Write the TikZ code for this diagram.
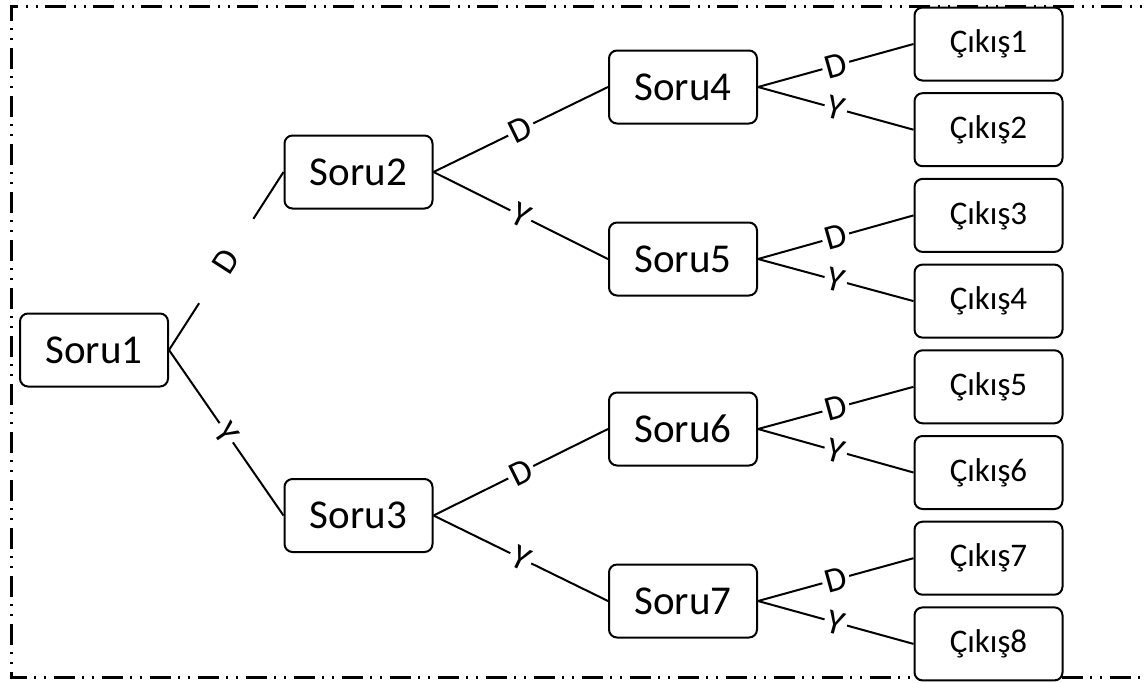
\documentclass[tikz,border=0pt]{standalone}
\usepackage{fontspec}
\setmainfont{Carlito}
\usetikzlibrary{positioning}

\begin{document}
\begin{tikzpicture}[
  x=0.5pt, y=-0.5pt,
  qbox/.style={draw=black, line width=1pt, rounded corners=4pt, fill=white,
    minimum width=74pt, minimum height=36.5pt, inner sep=0pt,
    font=\fontsize{20.5}{24}\selectfont},
  outbox/.style={qbox, font=\fontsize{16.5}{19}\selectfont},
  link/.style={line width=1pt, draw=black},
  ans/.style={sloped, fill=white, inner sep=1.5pt, font=\fontsize{17.5}{20}\selectfont},
  dashframe/.style={line width=1.1pt,
    dash pattern=on 10.5pt off 3.5pt on 0.9pt off 4.1pt on 0.9pt off 4.1pt}
]
  \useasboundingbox (0,0) rectangle (1145,682);
  \draw[dashframe] (1170,6.5) -- (11.5,6.5) -- (11.5,677.5) -- (1170,677.5);

  % questions
  \node[qbox] (soru1) at (94,350) {Soru1};
  \node[qbox] (soru2) at (358.5,172) {Soru2};
  \node[qbox] (soru3) at (358.5,515.5) {Soru3};
  \node[qbox] (soru4) at (683,87) {Soru4};
  \node[qbox] (soru5) at (683,259) {Soru5};
  \node[qbox] (soru6) at (683,429) {Soru6};
  \node[qbox] (soru7) at (683,601) {Soru7};

  % outputs
  \node[outbox] (cikis1) at (988.5,44) {Çıkış1};
  \node[outbox] (cikis2) at (988.5,129.7) {Çıkış2};
  \node[outbox] (cikis3) at (988.5,215.4) {Çıkış3};
  \node[outbox] (cikis4) at (988.5,301.1) {Çıkış4};
  \node[outbox] (cikis5) at (988.5,386.8) {Çıkış5};
  \node[outbox] (cikis6) at (988.5,472.5) {Çıkış6};
  \node[outbox] (cikis7) at (988.5,558.2) {Çıkış7};
  \node[outbox] (cikis8) at (988.5,643.9) {Çıkış8};

  \draw[link] (soru1.east) -- node[ans, minimum width=50pt] {D} (soru2.west);
  \draw[link] (soru1.east) -- node[ans] {Y} (soru3.west);
  \draw[link] (soru2.east) -- node[ans] {D} (soru4.west);
  \draw[link] (soru2.east) -- node[ans] {Y} (soru5.west);
  \draw[link] (soru3.east) -- node[ans] {D} (soru6.west);
  \draw[link] (soru3.east) -- node[ans] {Y} (soru7.west);

  \draw[link] (soru4.east) -- node[ans] {D} (cikis1.west);
  \draw[link] (soru4.east) -- node[ans] {Y} (cikis2.west);
  \draw[link] (soru5.east) -- node[ans] {D} (cikis3.west);
  \draw[link] (soru5.east) -- node[ans] {Y} (cikis4.west);
  \draw[link] (soru6.east) -- node[ans] {D} (cikis5.west);
  \draw[link] (soru6.east) -- node[ans] {Y} (cikis6.west);
  \draw[link] (soru7.east) -- node[ans] {D} (cikis7.west);
  \draw[link] (soru7.east) -- node[ans] {Y} (cikis8.west);
\end{tikzpicture}
\end{document}
